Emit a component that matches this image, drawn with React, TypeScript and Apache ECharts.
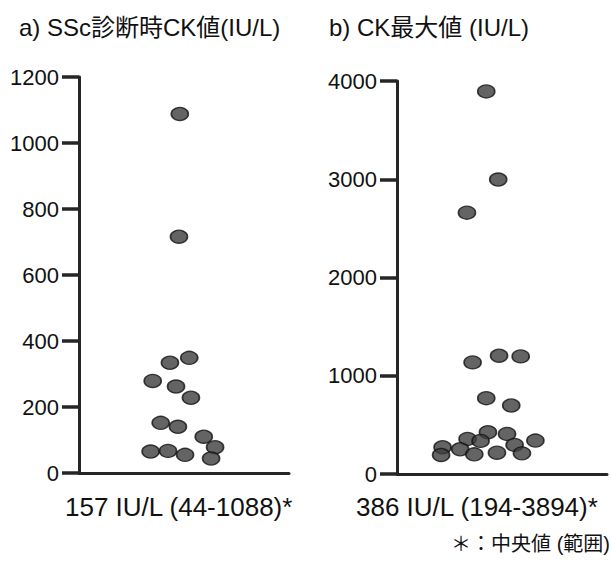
import React, { useEffect, useRef } from "react";
import * as echarts from "echarts";

// Panel a: CK at SSc diagnosis (IU/L); x = horizontal jitter position (0-100)
const aJitter = [48, 47.6, 52.5, 43.3, 35.1, 46.2, 53.3, 38.9, 47.1, 59.4, 64.8, 34.1, 42.4, 50.5, 62.9];
const aValues = [1088, 716, 349, 334, 279, 262, 228, 152, 140, 110, 78, 65, 67, 55, 44];
const aTicks = [0, 200, 400, 600, 800, 1000, 1200];

// Panel b: maximum CK (IU/L)
const bJitter = [42.5, 48.2, 33.3, 36, 48.6, 58.9, 42.5, 54.4, 43.3, 52.4, 33.6, 39.8, 65.9, 21.7, 30.1, 56, 21, 36.8, 47.6, 59.5];
const bValues = [3894, 2997, 2660, 1136, 1204, 1197, 772, 697, 425, 408, 357, 337, 340, 272, 252, 296, 194, 200, 217, 210];
const bTicks = [0, 1000, 2000, 3000, 4000];

const titles = ["a) SSc診断時CK値(IU/L)", "b) CK最大値 (IU/L)"];
const summaries = ["157 IU/L (44-1088)*", "386 IU/L (194-3894)*"];
const footnote = "＊：中央値 (範囲)";

const FONT = '"Liberation Sans", "Noto Sans CJK JP", sans-serif';
const AX = "#262626";
const TICK_LEN = 17;

export default function App() {
  const ref = useRef<HTMLDivElement>(null);
  useEffect(() => {
    const chart = echarts.init(ref.current!, null, { renderer: "svg" });
    const yAxisCommon = (ticks: number[]) => ({
      type: "value" as const,
      min: ticks[0],
      max: ticks[ticks.length - 1],
      interval: ticks[1] - ticks[0],
      axisLine: { show: true, onZero: false, lineStyle: { color: AX, width: 3 } },
      axisTick: { show: true, length: TICK_LEN, lineStyle: { color: AX, width: 3.5 } },
      axisLabel: {
        fontSize: 22,
        color: "#111",
        fontFamily: FONT,
        margin: TICK_LEN + 3,
        formatter: (v: number) => String(v),
      },
      splitLine: { show: false },
    });
    const xAxisCommon = (idx: number) => ({
      type: "value" as const,
      gridIndex: idx,
      min: 0,
      max: 100,
      axisLine: { show: true, onZero: false, lineStyle: { color: AX, width: 3 } },
      axisTick: { show: false },
      axisLabel: { show: false },
      splitLine: { show: false },
    });
    const dotStyle = { color: "#3d3d3d", borderColor: "#111111", borderWidth: 1.5 };
    chart.setOption({
      animation: false,
      backgroundColor: "#ffffff",
      grid: [
        { left: 79, top: 77, width: 210, height: 396 },
        { left: 397, top: 81, width: 210, height: 393 },
      ],
      xAxis: [xAxisCommon(0), xAxisCommon(1)],
      yAxis: [
        { ...yAxisCommon(aTicks), gridIndex: 0 },
        { ...yAxisCommon(bTicks), gridIndex: 1 },
      ],
      series: [
        {
          type: "scatter",
          xAxisIndex: 0,
          yAxisIndex: 0,
          symbol: "circle",
          symbolSize: [17, 13],
          itemStyle: dotStyle,
          data: aValues.map((v, i) => [aJitter[i], v]),
        },
        {
          type: "scatter",
          xAxisIndex: 1,
          yAxisIndex: 1,
          symbol: "circle",
          symbolSize: [17, 13],
          itemStyle: dotStyle,
          data: bValues.map((v, i) => [bJitter[i], v]),
        },
      ],
      graphic: [
        { type: "text", left: 19, top: 15, style: { text: titles[0], fontSize: 24, fontFamily: FONT, fill: "#111" } },
        { type: "text", left: 329, top: 15, style: { text: titles[1], fontSize: 24, fontFamily: FONT, fill: "#111" } },
        { type: "text", left: 65, top: 494, style: { text: summaries[0], fontSize: 26, fontFamily: FONT, fill: "#111" } },
        { type: "text", left: 356, top: 494, style: { text: summaries[1], fontSize: 26, fontFamily: FONT, fill: "#111" } },
        { type: "text", right: 1, top: 534, style: { text: footnote, fontSize: 20, fontFamily: FONT, fill: "#111" } },
      ],
    });
    return () => chart.dispose();
  }, []);
  return <div ref={ref} style={{ width: 611, height: 562, position: "absolute", left: 0, top: 0 }} />;
}
